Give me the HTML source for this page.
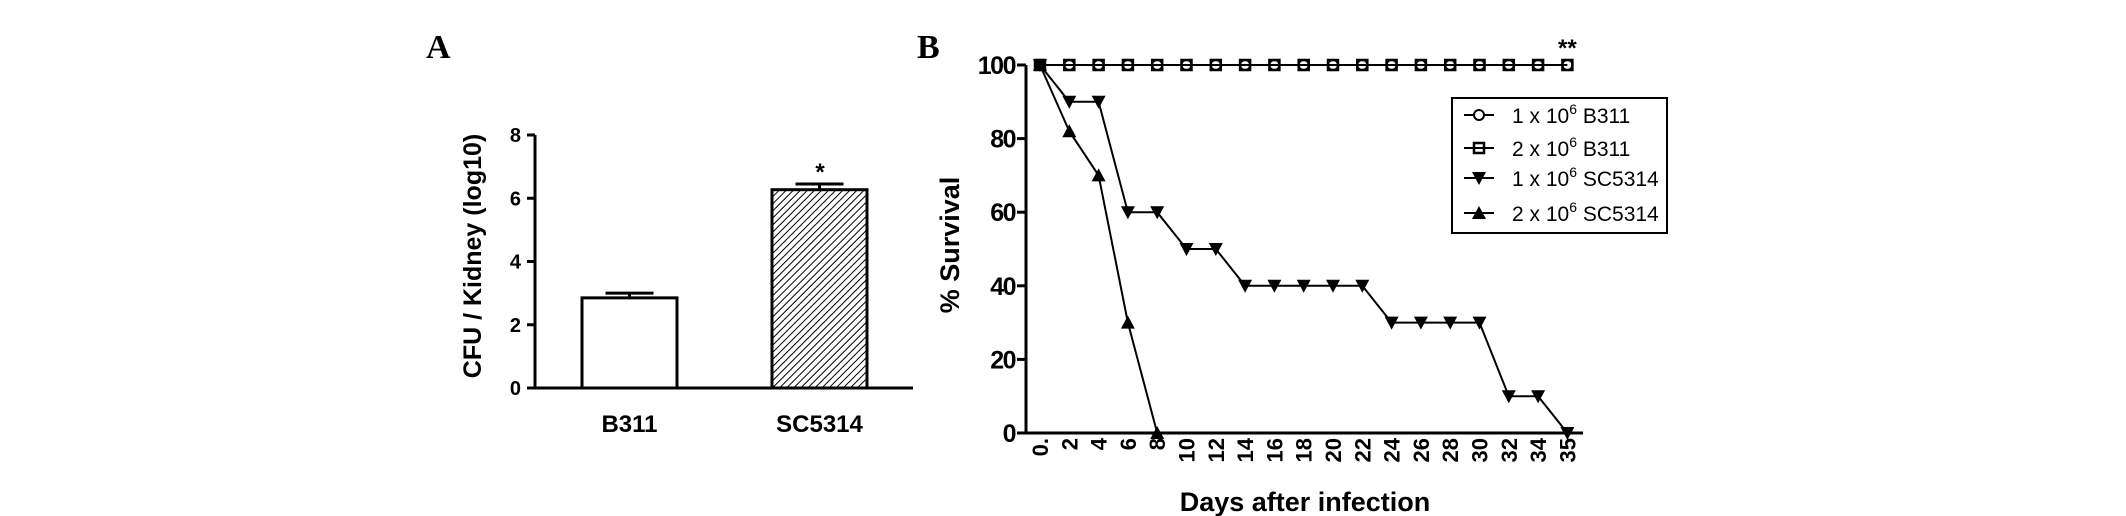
<!DOCTYPE html>
<html><head><meta charset="utf-8"><style>
body{margin:0;background:#fff;}
svg{display:block;font-family:"Liberation Sans",Arial,sans-serif;}
</style></head><body>
<svg id="fig" width="2126" height="516" viewBox="0 0 2126 516" xmlns="http://www.w3.org/2000/svg">
<defs>
<pattern id="hatch" patternUnits="userSpaceOnUse" width="5" height="5" patternTransform="rotate(45)">
<rect width="5" height="5" fill="#fff"/><line x1="0" y1="0" x2="0" y2="5" stroke="#000" stroke-width="2"/>
</pattern>
</defs>
<text x="426" y="58" font-family="Liberation Serif,serif" font-weight="bold" font-size="34">A</text>
<text x="917" y="58" font-family="Liberation Serif,serif" font-weight="bold" font-size="34">B</text>
<g id="chartA"></g>
<g id="chartB"></g>
</svg>
<script>
const barCats=["B311","SC5314"];
const barVals=[2.85,6.27];
const barErr=[0.15,0.18];
const aTicks=[0,2,4,6,8];
const days=[0,2,4,6,8,10,12,14,16,18,20,22,24,26,28,30,32,34,35];
const dayLabels=["0.","2","4","6","8","10","12","14","16","18","20","22","24","26","28","30","32","34","35"];
const b1e6=[100,100,100,100,100,100,100,100,100,100,100,100,100,100,100,100,100,100,100];
const b2e6=[100,100,100,100,100,100,100,100,100,100,100,100,100,100,100,100,100,100,100];
const sc1e6=[100,90,90,60,60,50,50,40,40,40,40,40,30,30,30,30,10,10,0];
const sc2e6=[100,82,70,30,0];
const bTicks=[0,20,40,60,80,100];
const legendLabels=["1 x 10","2 x 10","1 x 10","2 x 10"];
const legendStrains=["B311","B311","SC5314","SC5314"];

const NS="http://www.w3.org/2000/svg";
function mk(parent,tag,attrs,text){const e=document.createElementNS(NS,tag);for(const k in attrs)e.setAttribute(k,attrs[k]);if(text!==undefined)e.textContent=text;parent.appendChild(e);return e;}

// Panel A
const A=document.getElementById('chartA');
const ay=v=>388-v*(253/8);
const ax0=535;
const barX=[582,772], barW=[95,95];
let e;
e=mk(A,'line',{x1:ax0,y1:ay(8),x2:ax0,y2:ay(0),stroke:'#000','stroke-width':3});


e=mk(A,'line',{x1:ax0-8,y1:ay(0),x2:913,y2:ay(0),stroke:'#000','stroke-width':3});


aTicks.forEach(t=>{
  mk(A,'line',{x1:ax0-8,y1:ay(t),x2:ax0,y2:ay(t),stroke:'#000','stroke-width':3});
  e=mk(A,'text',{x:ax0-14,y:ay(t)+7,'text-anchor':'end','font-weight':'bold','font-size':20},String(t));
  
  
});
barCats.forEach((c,i)=>{
  const x=barX[i],w=barW[i],cx=x+w/2;
  e=mk(A,'rect',{x:x,y:ay(barVals[i]),width:w,height:ay(0)-ay(barVals[i]),fill:i?'url(#hatch)':'#fff',stroke:'#000','stroke-width':3});
  
  
  const top=ay(barVals[i]+barErr[i]);
  mk(A,'line',{x1:cx,y1:ay(barVals[i]),x2:cx,y2:top,stroke:'#000','stroke-width':3});
  e=mk(A,'line',{x1:cx-24,y1:top,x2:cx+24,y2:top,stroke:'#000','stroke-width':3});
  
  
  e=mk(A,'text',{x:cx,y:432,'text-anchor':'middle','font-weight':'bold','font-size':24},c);
  
  
});
e=mk(A,'text',{x:820,y:180,'text-anchor':'middle','font-weight':'bold','font-size':24},'*');


e=mk(A,'text',{x:0,y:0,transform:'translate(481,256) rotate(-90)','text-anchor':'middle','font-weight':'bold','font-size':25},'CFU / Kidney (log10)');



// Panel B
const B=document.getElementById('chartB');
const bx=i=>1040+i*29.3;
const by=v=>433-v*3.68;
const bx0=1026;
e=mk(B,'line',{x1:bx0,y1:by(100),x2:bx0,y2:by(0)+1.5,stroke:'#000','stroke-width':3});


e=mk(B,'line',{x1:bx0-8,y1:by(0),x2:1583,y2:by(0),stroke:'#000','stroke-width':3});


bTicks.forEach(t=>{
  mk(B,'line',{x1:bx0-9,y1:by(t),x2:bx0,y2:by(t),stroke:'#000','stroke-width':3});
  e=mk(B,'text',{x:bx0-11,y:by(t)+9,'text-anchor':'end','font-weight':'bold','font-size':25,'letter-spacing':'-1.5'},String(t));
  
  
});
dayLabels.forEach((l,i)=>{
  e=mk(B,'text',{x:0,y:0,transform:'translate('+(bx(i)+8)+',438) rotate(-90)','text-anchor':'end','font-weight':'bold','font-size':22},l);
  
  
});
e=mk(B,'text',{x:0,y:0,transform:'translate(959,245) rotate(-90)','text-anchor':'middle','font-weight':'bold','font-size':27},'% Survival');


e=mk(B,'text',{x:1305,y:511,'text-anchor':'middle','font-weight':'bold','font-size':27},'Days after infection');



function series(vals,name,marker){
  const g=mk(B,'g',{});
  
  
  const pts=vals.map((v,i)=>bx(i)+','+by(v)).join(' ');
  mk(g,'polyline',{points:pts,fill:'none',stroke:'#000','stroke-width':2});
  vals.forEach((v,i)=>drawMarker(g,marker,bx(i),by(v)));
}
function drawMarker(g,m,x,y){
  let el;
  if(m==='circle') el=mk(g,'circle',{cx:x,cy:y,r:5,fill:'#fff',stroke:'#000','stroke-width':2});
  else if(m==='square') el=mk(g,'rect',{x:x-5,y:y-5,width:10,height:10,fill:'none',stroke:'#000','stroke-width':2.5});
  else if(m==='down') el=mk(g,'polygon',{points:(x-7)+','+(y-6)+' '+(x+7)+','+(y-6)+' '+x+','+(y+7),fill:'#000'});
  else el=mk(g,'polygon',{points:(x-7)+','+(y+6)+' '+(x+7)+','+(y+6)+' '+x+','+(y-7),fill:'#000'});
  
  
}
series(b1e6,'series-1e6-b311','circle');
series(b2e6,'series-2e6-b311','square');
series(sc1e6,'series-1e6-sc5314','down');
series(sc2e6,'series-2e6-sc5314','up');
e=mk(B,'text',{x:bx(18),y:56,'text-anchor':'middle','font-weight':'bold','font-size':24},'**');



// Legend
const L=mk(B,'g',{});


mk(L,'rect',{x:1452,y:98,width:215,height:135,fill:'#fff',stroke:'#000','stroke-width':2});
const mks=['circle','square','down','up'];
const ly=[115,148,178,213];
legendLabels.forEach((l,i)=>{
  const g=mk(L,'g',{});
  
  
  mk(g,'line',{x1:1464,y1:ly[i],x2:1494,y2:ly[i],stroke:'#000','stroke-width':2});
  drawMarker(g,mks[i],1479,ly[i]);
  const t=mk(g,'text',{x:1512,y:ly[i]+8,'font-size':21});
  const s1=document.createElementNS(NS,'tspan');s1.textContent=l;t.appendChild(s1);
  const s2=document.createElementNS(NS,'tspan');s2.setAttribute('dy','-9');s2.setAttribute('font-size','14');s2.textContent='6';t.appendChild(s2);
  const s3=document.createElementNS(NS,'tspan');s3.setAttribute('dy','9');s3.textContent=' '+legendStrains[i];t.appendChild(s3);
});
</script>
</body></html>
